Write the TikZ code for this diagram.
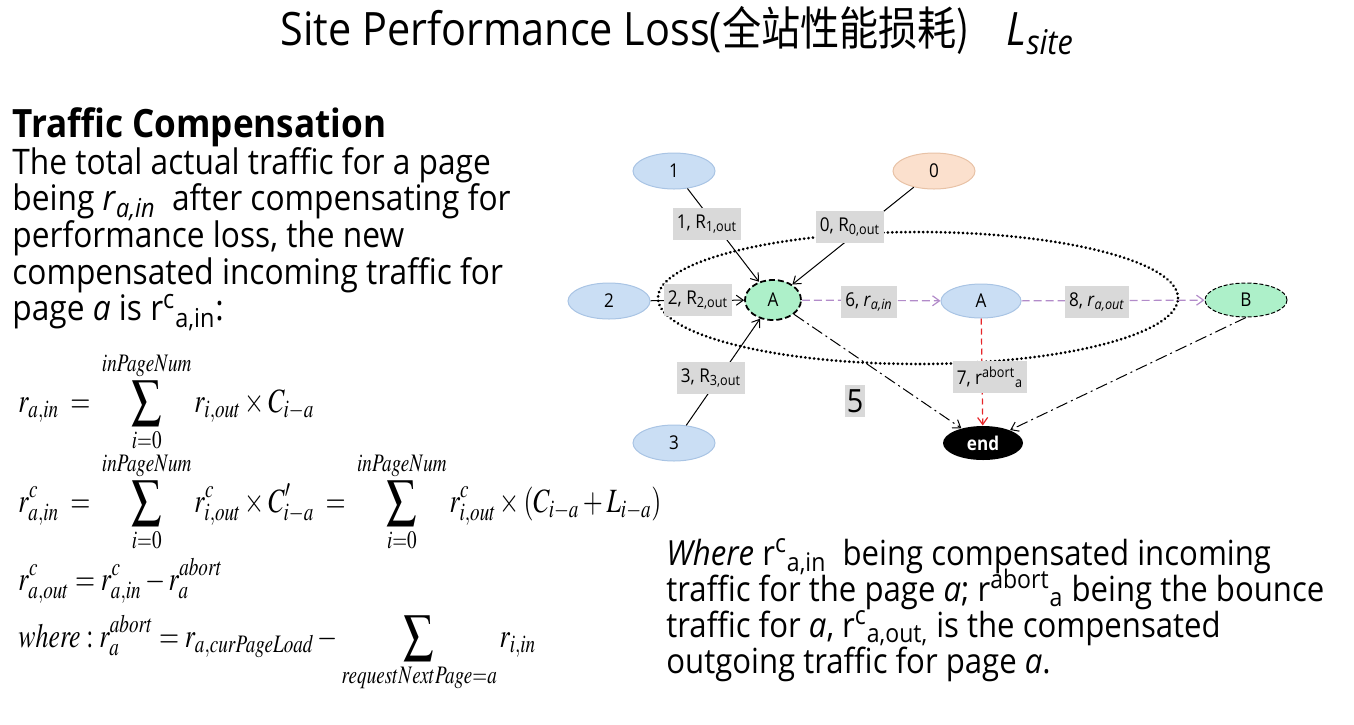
\documentclass[tikz,border=0pt]{standalone}
\usepackage{mathptmx}
\usepackage[no-math]{fontspec}
\setmainfont{Open Sans}[FakeStretch=0.9]
\newfontfamily\cjk{Noto Sans CJK SC}[FakeStretch=0.85]
\usetikzlibrary{arrows.meta,shapes.geometric}
\definecolor{nblue}{HTML}{CADEF4}
\definecolor{nblueedge}{HTML}{A9C4E4}
\definecolor{norange}{HTML}{FBE0CD}
\definecolor{norangeedge}{HTML}{E8C2A6}
\definecolor{ngreen}{HTML}{ADF0C9}
\definecolor{lgray}{HTML}{D9D9D9}
\definecolor{ppurple}{HTML}{B28BC9}
\definecolor{rred}{HTML}{E6262A}
\newcommand{\Bsum}{\mathop{\vcenter{\hbox{\scalebox{1.15}[1.08]{$\displaystyle\sum$}}}}\limits}
\newcommand{\eqbox}[1]{\scalebox{0.76}[1]{#1}}
\begin{document}
\begin{tikzpicture}[x=0.5pt,y=-0.5pt,
  pg/.style={ellipse, inner sep=0pt, minimum width=41pt, minimum height=18pt, font=\fontsize{9.5}{11}\selectfont, line width=0.5pt},
  bluen/.style={pg, fill=nblue, draw=nblueedge},
  lbl/.style={fill=lgray, inner xsep=2pt, inner ysep=0pt, minimum height=16pt, font=\fontsize{9.5}{10}\selectfont},
  tip/.style={-{Straight Barb[length=3.5pt,width=5pt]}},
  solidedge/.style={tip, line width=0.5pt},
  pdash/.style={tip, draw=ppurple, dash pattern=on 4pt off 2pt, line width=0.6pt},
  rdash/.style={tip, draw=rred, dash pattern=on 3pt off 2pt, line width=0.6pt},
  dashdot/.style={tip, dash pattern=on 6pt off 2pt on 1pt off 2pt, line width=0.5pt},
  body/.style={inner sep=0pt, font=\fontsize{17.6}{20}\selectfont},
  rbody/.style={inner sep=0pt, font=\fontsize{17.3}{20}\selectfont},
  mathtext/.style={inner sep=0pt, font=\fontsize{17}{19}\selectfont}
]
\useasboundingbox (0,0) rectangle (1354,724);

% title
\node[anchor=base west, inner sep=0pt, font=\fontsize{23}{27}\selectfont] (title) at (280,45)
  {Site Performance Loss({\cjk 全站性能损耗)}\hspace{0.8em}\textit{L}\textsubscript{\textit{site}}};

% heading and paragraph
\node[anchor=base west, inner sep=0pt, font=\fontsize{19.5}{22}\selectfont\bfseries] (head) at (12,137) {Traffic Compensation};
\foreach \txt [count=\i] in {
  {The total actual traffic for a page},
  {being \textit{r}\textsubscript{\textit{a,in}}\ \ after compensating for},
  {performance loss, the new},
  {compensated incoming traffic for},
  {page \textit{a} is r\textsuperscript{c}\textsubscript{a,in}:}}
  \node[body, anchor=base west] (p\i) at (12,{174+36.7*(\i-1)}) {\txt};

% formulas
\node[mathtext, anchor=base west] (f1) at (18,412)
  {\eqbox{$\displaystyle r_{a,in} \;=\; \Bsum_{i=0}^{inPageNum} r_{i,out}\times C_{i-a}$}};
\node[mathtext, anchor=base west] (f2) at (18,512)
  {\eqbox{$\displaystyle r^{c}_{a,in} \;=\; \Bsum_{i=0}^{inPageNum} r^{c}_{i,out}\times C'_{i-a} \;=\; \Bsum_{i=0}^{inPageNum} r^{c}_{i,out}\times (C_{i-a}+L_{i-a})$}};
\node[mathtext, anchor=base west] (f3) at (18,590)
  {\eqbox{$\displaystyle r^{c}_{a,out} = r^{c}_{a,in} - r^{abort}_{a}$}};
\node[mathtext, anchor=base west] (f4) at (18,647)
  {\eqbox{$\displaystyle \mathit{where}: r^{abort}_{a} = r_{a,curPageLoad} - \Bsum_{requestNextPage=a} r_{i,in}$}};

% right paragraph
\foreach \txt [count=\i] in {
  {\textit{Where} r\textsuperscript{c}\textsubscript{a,in}\ \ being compensated incoming},
  {traffic for the page \textit{a}; r\textsuperscript{abort}\textsubscript{a} being the bounce},
  {traffic for \textit{a}, r\textsuperscript{c}\textsubscript{a,out,} is the compensated},
  {outgoing traffic for page \textit{a}.}}
  \node[rbody, anchor=base west] (q\i) at (666,{565+36*(\i-1)}) {\txt};

% graph nodes
\node[bluen] (n1) at (674,171) {1};
\node[pg, fill=norange, draw=norangeedge] (n0) at (934,171) {0};
\node[bluen] (n2) at (609,301) {2};
\node[bluen] (n3) at (674,443) {3};
\node[pg, minimum width=28pt, minimum height=20pt, fill=ngreen, draw=black, line width=0.9pt, dash pattern=on 3pt off 1.5pt] (Ag) at (773,300) {A};
\node[bluen, minimum width=40pt, minimum height=17pt] (Ab) at (981,301) {A};
\node[pg, minimum height=17pt, fill=ngreen, draw=black, dash pattern=on 2pt off 1pt] (B) at (1246,300) {B};
\node[pg, minimum width=40pt, minimum height=17pt, fill=black, text=white, font=\fontsize{9.5}{11}\selectfont\bfseries] (end) at (983,443) {end};

% group ellipse
\node[ellipse, minimum width=260pt, minimum height=66pt, draw, line width=1.5pt, dash pattern=on 0.01pt off 2.2pt, line cap=round] (grp) at (918,298) {};

% edges
\draw[solidedge] (n1) -- (Ag);
\draw[solidedge] (n0) -- (Ag);
\draw[solidedge] (n2) -- (Ag);
\draw[solidedge] (n3) -- (Ag);
\draw[pdash] (Ag) -- (Ab);
\draw[pdash] (Ab) -- (B);
\draw[rdash] (Ab) -- (end);
\draw[dashdot] (Ag) -- (end);
\draw[dashdot] (B.south) -- (end);

% edge labels
\node[lbl] (l1) at (707,224) {1, R\textsubscript{1,out}};
\node[lbl] (l0) at (850,227) {0, R\textsubscript{0,out}};
\node[lbl] (l2) at (698,300) {2, R\textsubscript{2,out}};
\node[lbl] (l3) at (711,378) {3, R\textsubscript{3,out}};
\node[lbl] (l6) at (869,302) {6, \textit{r}\textsubscript{\textit{a,in}}};
\node[lbl] (l8) at (1097,302) {8, \textit{r}\textsubscript{\textit{a,out}}};
\node[lbl] (l7) at (990,377) {7, r\textsuperscript{abort}\textsubscript{a}};
\node[lbl, inner xsep=1pt, font=\fontsize{16}{18}\selectfont] (l5) at (855,401) {5};
\end{tikzpicture}
\end{document}
